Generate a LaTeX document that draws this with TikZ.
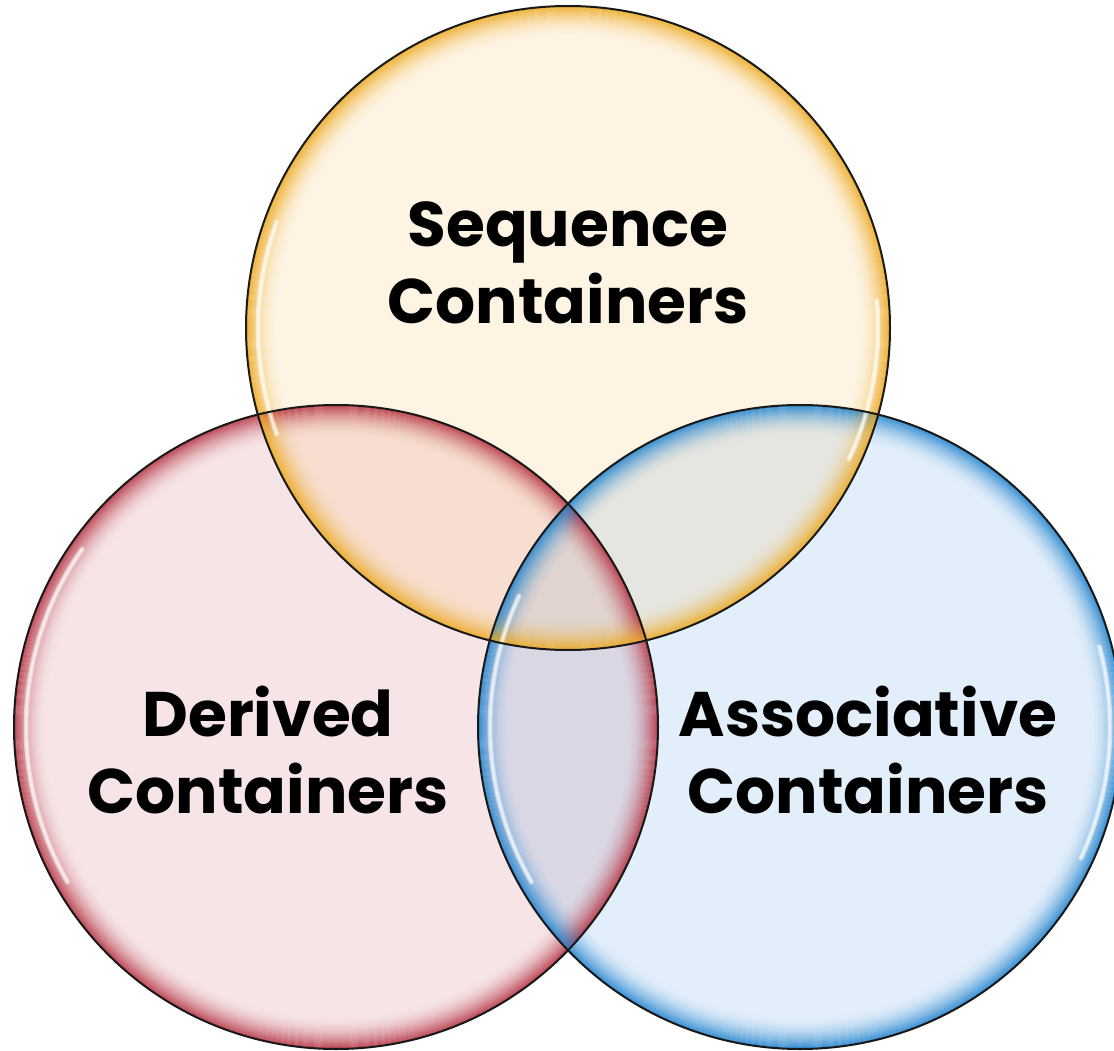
\documentclass[tikz,border=0pt]{standalone}
\usepackage{fontspec}
\setmainfont{Poppins}
\definecolor{ytint}{RGB}{250,200,120}
\definecolor{ltint}{RGB}{210,120,130}
\definecolor{rtint}{RGB}{110,170,230}
\definecolor{yring}{RGB}{236,168,30}
\definecolor{lring}{RGB}{180,50,65}
\definecolor{rring}{RGB}{30,130,205}
\newcommand\glowring[2]{%
  \foreach \i [evaluate=\i as \op using {0.85*(1-\i/16)^2}] in {0,...,15}{%
    \draw[#2, line width=2pt, draw opacity=\op] (#1) circle[radius={321-2*\i}];}}
\newcommand\shine[3]{%
  \draw[white, line width=5pt, draw opacity=0.5, line cap=round] (#1) ++(#2:310) arc[start angle=#2, end angle=#3, radius=310];
  \draw[white, line width=2pt, draw opacity=0.6, line cap=round] (#1) ++(#2:310) arc[start angle=#2, end angle=#3, radius=310];}
\begin{document}
\begin{tikzpicture}[x=1pt,y=-1pt,
  lbl/.style={font=\bfseries\fontsize{63}{77}\selectfont, align=center, inner sep=0pt, text=black},
  rim/.style={draw=black!90, line width=2pt}]
\useasboundingbox (0,0) rectangle (1114,1051);
\clip (0,0) rectangle (1114,1051);
\coordinate (ctop) at (568,328);
\coordinate (cleft) at (336,727);
\coordinate (cright) at (800,727);
% pale fills
\fill[ltint, fill opacity=0.2] (cleft) circle[radius=322];
\fill[rtint, fill opacity=0.2] (cright) circle[radius=322];
\fill[ytint, fill opacity=0.2] (ctop) circle[radius=322];
% inner glows
\glowring{cleft}{lring}
\glowring{cright}{rring}
\glowring{ctop}{yring}
% highlights
\shine{cleft}{150}{215}
\shine{cright}{150}{205}
\shine{cright}{-15}{25}
\shine{ctop}{160}{200}
\shine{ctop}{-5}{25}
% outlines
\draw[rim] (cleft) circle[radius=322];
\draw[rim] (cright) circle[radius=322];
\draw[rim] (ctop) circle[radius=322];
% labels
\node[lbl] (seq) at (568,263) {Sequence\\Containers};
\node[lbl] (der) at (268,750) {Derived\\Containers};
\node[lbl] (ass) at (868,750) {Associative\\Containers};
\end{tikzpicture}
\end{document}
